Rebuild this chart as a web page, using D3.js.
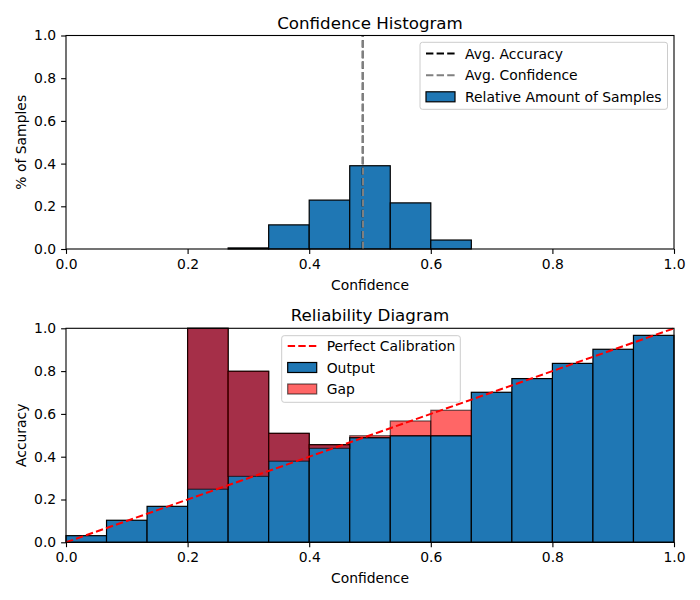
<!DOCTYPE html>
<html>
<head>
<meta charset="utf-8">
<script src="https://cdn.jsdelivr.net/npm/d3@7"></script>
<style>
  body { margin: 0; background: #fff; }
  text { font-family: "DejaVu Sans", sans-serif; fill: #000; }
</style>
</head>
<body>
<div id="chart-area"></div>
<script>
const FIGURE = { WIDTH: 700, HEIGHT: 600 };
const PLOT = { LEFT: 66, RIGHT: 674 };
const TOP_AX = { TOP: 35.5, BOTTOM: 249 };
const BOT_AX = { TOP: 328.3, BOTTOM: 542.3 };

// data
const N_BINS = 15;
const tickValues = [0.0, 0.2, 0.4, 0.6, 0.8, 1.0];
const sampleShare = [0, 0, 0, 0, 0.005, 0.113, 0.229, 0.390, 0.216, 0.042, 0, 0, 0, 0, 0];
const avgAccuracy = 0.488;
const avgConfidence = 0.4885;
const outputAcc = [0.031, 0.103, 0.168, 1.0, 0.799, 0.509, 0.456, 0.489, 0.498, 0.498, 0.701, 0.765, 0.836, 0.902, 0.967];
const gapEnd = [null, null, null, 0.248, 0.308, 0.379, 0.439, 0.498, 0.567, 0.617, null, null, null, null, null];

const BLUE = '#1f77b4';
const binEdges = d3.range(N_BINS + 1).map(i => i / N_BINS);

let svg = d3.select('#chart-area')
    .append('svg')
        .attr('width', FIGURE.WIDTH)
        .attr('height', FIGURE.HEIGHT);

svg.append('rect').attr('width', FIGURE.WIDTH).attr('height', FIGURE.HEIGHT).attr('fill', '#fff');

let x = d3.scaleLinear().domain([0, 1]).range([PLOT.LEFT, PLOT.RIGHT]);

function drawAxes(y, ax, title, ylabel) {
    let xAxis = d3.axisBottom(x).tickValues(tickValues).tickFormat(d3.format('.1f')).tickSizeOuter(0).tickSize(4.9).tickPadding(4.9);
    let yAxis = d3.axisLeft(y).tickValues(tickValues).tickFormat(d3.format('.1f')).tickSizeOuter(0).tickSize(4.9).tickPadding(4.9);

    let gx = svg.append('g').attr('transform', `translate(0, ${ax.BOTTOM})`).call(xAxis);
    let gy = svg.append('g').attr('transform', `translate(${PLOT.LEFT}, 0)`).call(yAxis);
    [gx, gy].forEach(g => {
        g.select('.domain').remove();
        g.selectAll('line').attr('stroke', '#000').attr('stroke-width', 1.1);
        g.selectAll('text').attr('font-size', '13.9px').attr('font-family', 'DejaVu Sans');
    });

    // frame
    svg.append('rect')
        .attr('x', PLOT.LEFT).attr('y', ax.TOP)
        .attr('width', PLOT.RIGHT - PLOT.LEFT).attr('height', ax.BOTTOM - ax.TOP)
        .attr('fill', 'none').attr('stroke', '#000').attr('stroke-width', 1.1);

    svg.append('text')
        .attr('x', (PLOT.LEFT + PLOT.RIGHT) / 2).attr('y', ax.TOP - 7)
        .attr('text-anchor', 'middle').attr('font-size', '16.7px')
        .text(title);
    svg.append('text')
        .attr('x', (PLOT.LEFT + PLOT.RIGHT) / 2).attr('y', ax.BOTTOM + 41)
        .attr('text-anchor', 'middle').attr('font-size', '13.9px')
        .text('Confidence');
    svg.append('text')
        .attr('transform', `translate(26, ${(ax.TOP + ax.BOTTOM) / 2}) rotate(-90)`)
        .attr('text-anchor', 'middle').attr('font-size', '13.9px')
        .text(ylabel);
}

// ---------- Confidence histogram ----------
let yTop = d3.scaleLinear().domain([0, 1]).range([TOP_AX.BOTTOM, TOP_AX.TOP]);

let histData = sampleShare.map((v, i) => ({ x0: binEdges[i], x1: binEdges[i + 1], v: v }));
svg.append('g').selectAll('rect')
    .data(histData)
    .enter()
    .append('rect')
        .attr('x', d => x(d.x0))
        .attr('y', d => yTop(d.v))
        .attr('width', d => x(d.x1) - x(d.x0))
        .attr('height', d => yTop(0) - yTop(d.v))
        .attr('fill', BLUE)
        .attr('stroke', '#000')
        .attr('stroke-width', 1.2);

svg.append('line')
    .attr('x1', x(avgAccuracy)).attr('x2', x(avgAccuracy))
    .attr('y1', yTop(0)).attr('y2', yTop(1))
    .attr('stroke', '#000').attr('stroke-width', 2).attr('stroke-dasharray', '7.4,3.2');
svg.append('line')
    .attr('x1', x(avgConfidence)).attr('x2', x(avgConfidence))
    .attr('y1', yTop(0)).attr('y2', yTop(1))
    .attr('stroke', 'gray').attr('stroke-width', 2).attr('stroke-dasharray', '7.4,3.2');

drawAxes(yTop, TOP_AX, 'Confidence Histogram', '% of Samples');

// ---------- Reliability diagram ----------
let yBot = d3.scaleLinear().domain([0, 1]).range([BOT_AX.BOTTOM, BOT_AX.TOP]);

let outData = outputAcc.map((v, i) => ({ x0: binEdges[i], x1: binEdges[i + 1], v: v, g: gapEnd[i] }));
svg.append('g').selectAll('rect')
    .data(outData)
    .enter()
    .append('rect')
        .attr('x', d => x(d.x0))
        .attr('y', d => yBot(d.v))
        .attr('width', d => x(d.x1) - x(d.x0))
        .attr('height', d => yBot(0) - yBot(d.v))
        .attr('fill', BLUE)
        .attr('stroke', '#000')
        .attr('stroke-width', 1.2);

svg.append('g').selectAll('rect')
    .data(outData.filter(d => d.g !== null))
    .enter()
    .append('rect')
        .attr('x', d => x(d.x0))
        .attr('y', d => yBot(Math.max(d.v, d.g)))
        .attr('width', d => x(d.x1) - x(d.x0))
        .attr('height', d => Math.abs(yBot(d.v) - yBot(d.g)))
        .attr('fill', 'red').attr('fill-opacity', 0.6)
        .attr('stroke', '#000').attr('stroke-opacity', 0.6)
        .attr('stroke-width', 1.2);

svg.append('line')
    .attr('x1', x(0)).attr('y1', yBot(0))
    .attr('x2', x(1)).attr('y2', yBot(1))
    .attr('stroke', 'red').attr('stroke-width', 2).attr('stroke-dasharray', '7.4,3.2');

drawAxes(yBot, BOT_AX, 'Reliability Diagram', 'Accuracy');

// ---------- legends ----------
function legend(x0, y0, w, h, items) {
    let g = svg.append('g');
    g.append('rect')
        .attr('x', x0).attr('y', y0).attr('width', w).attr('height', h)
        .attr('rx', 2.5).attr('fill', '#fff').attr('fill-opacity', 0.8)
        .attr('stroke', '#ccc').attr('stroke-width', 1);
    items.forEach(it => {
        if (it.type === 'line') {
            g.append('line')
                .attr('x1', x0 + 6).attr('x2', x0 + 35)
                .attr('y1', it.y).attr('y2', it.y)
                .attr('stroke', it.color).attr('stroke-width', 2).attr('stroke-dasharray', '7.4,3.2');
        } else {
            g.append('rect')
                .attr('x', x0 + 6).attr('y', it.y - 5).attr('width', 29).attr('height', 10)
                .attr('fill', it.color).attr('fill-opacity', it.opacity || 1)
                .attr('stroke', '#000').attr('stroke-opacity', it.opacity || 1).attr('stroke-width', 1.2);
        }
        g.append('text')
            .attr('x', x0 + 45).attr('y', it.y + 5)
            .attr('font-size', '13.9px')
            .text(it.label);
    });
}

legend(420, 42.3, 247.5, 67, [
    { type: 'line', color: '#000', label: 'Avg. Accuracy', y: 53.6 },
    { type: 'line', color: 'gray', label: 'Avg. Confidence', y: 75.3 },
    { type: 'rect', color: BLUE, label: 'Relative Amount of Samples', y: 96.8 }
]);

legend(281.7, 335.7, 178.6, 66.6, [
    { type: 'line', color: 'red', label: 'Perfect Calibration', y: 346 },
    { type: 'rect', color: BLUE, label: 'Output', y: 367.5 },
    { type: 'rect', color: 'red', opacity: 0.6, label: 'Gap', y: 389 }
]);
</script>
</body>
</html>
